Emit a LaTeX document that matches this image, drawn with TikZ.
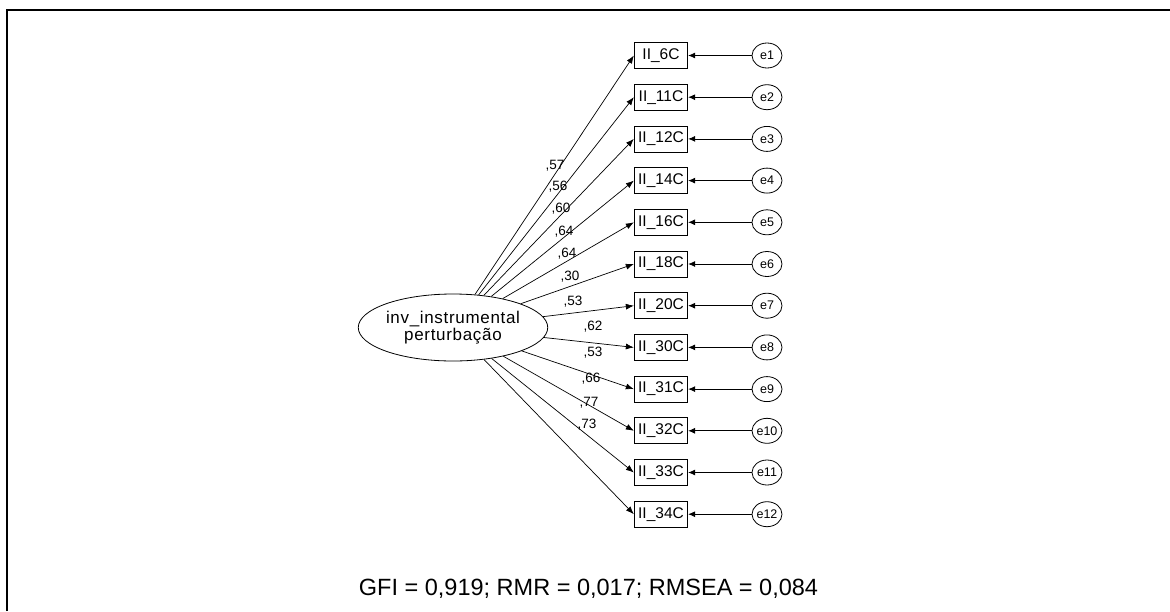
\documentclass[tikz,border=0pt]{standalone}
\usepackage{fontspec}
\setmainfont{Liberation Sans}
\usetikzlibrary{shapes.geometric,arrows.meta}
\begin{document}
\begin{tikzpicture}[x=1pt,y=-1pt,
  obs/.style={draw,line width=0.8pt,minimum width=53.5pt,minimum height=26pt,inner sep=0pt,font=\fontsize{15.5}{15.5}\selectfont},
  err/.style={draw,ellipse,line width=0.8pt,minimum width=30pt,minimum height=25pt,inner sep=0pt,font=\fontsize{12.5}{12.5}\selectfont},
  lat/.style={draw,ellipse,line width=0.8pt,minimum width=157pt,minimum height=67pt,inner sep=0pt,align=center,font=\fontsize{17}{17}\selectfont\addfontfeature{LetterSpace=4}},
  load/.style={-{Latex[length=8pt,width=6pt]},line width=0.7pt},
  errarr/.style={-{Latex[length=7pt,width=6pt]},line width=0.8pt},
  lbl/.style={font=\fontsize{13.5}{13.5}\selectfont,inner sep=0pt}
]
\useasboundingbox (0,0) rectangle (1170,611);
\fill[white] (0,0) rectangle (1170,611);
\draw[line width=2pt] (7,611) -- (7,10) -- (1170,10);
\node[lat] (lat) at (453,327.5) {inv\_instrumental\\perturbação};
\foreach \v [count=\i] in {6C,11C,12C,14C,16C,18C,20C,30C,31C,32C,33C,34C} {
  \node[obs] (b\i) at (661,{55.5+41.7*(\i-1)}) {II\_\v};
  \node[err] (e\i) at (767,{55.5+41.7*(\i-1)}) {e\i};
  \draw[errarr] (e\i) -- (b\i);
  \draw[load] (lat) -- (b\i.west);
}
\foreach \t/\x/\y [count=\i] in {57/555/166,56/558/187,60/561/209,64/564/232,64/567/254,30/570/277,53/573/302,62/593/327,53/593/353,66/591/379,77/589/403,73/587/425} {
  \node[lbl] (l\i) at (\x,\y) {,\t};
}
\node[font=\fontsize{23.5}{23.5}\selectfont,anchor=base,inner sep=0pt] (fit) at (588.5,595) {GFI = 0,919; RMR = 0,017; RMSEA = 0,084};
\end{tikzpicture}
\end{document}
